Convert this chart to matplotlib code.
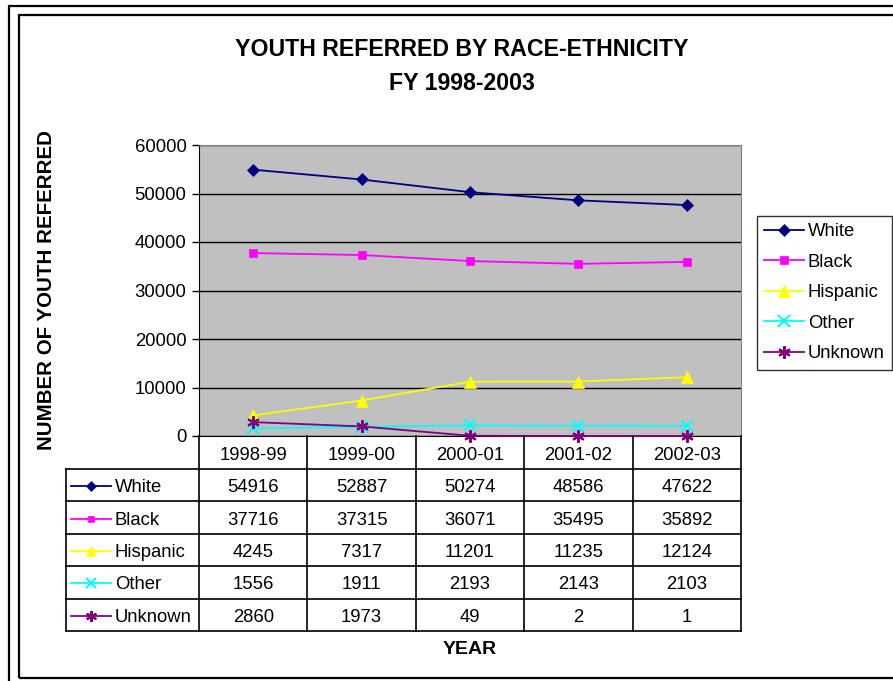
"""Youth referred by race-ethnicity, FY 1998-2003 (line chart with data table)."""
import matplotlib
matplotlib.use("Agg")
import matplotlib.pyplot as plt
from matplotlib.patches import Rectangle

plt.rcParams["font.family"] = ["Liberation Sans", "DejaVu Sans"]

years = ["1998-99", "1999-00", "2000-01", "2001-02", "2002-03"]
series_names = ["White", "Black", "Hispanic", "Other", "Unknown"]
white = [54916, 52887, 50274, 48586, 47622]
black = [37716, 37315, 36071, 35495, 35892]
hispanic = [4245, 7317, 11201, 11235, 12124]
other = [1556, 1911, 2193, 2143, 2103]
unknown = [2860, 1973, 49, 2, 1]
y_ticks = [0, 10000, 20000, 30000, 40000, 50000, 60000]

series_v = [white, black, hispanic, other, unknown]
colors = ["#000080", "#FF00FF", "#FFFF00", "#00FFFF", "#800080"]
markers = ["D", "s", "^", "x", (6, 2, 0)]
msizes = [6, 6, 8, 8, 9]
FS = 13.3

W, H = 893, 681
fig = plt.figure(figsize=(W / 100, H / 100), dpi=100)


def fx(px):
    return px / W


def fy(py):
    return 1 - py / H


# outer frames
fig.patches.append(Rectangle((fx(9), fy(700)), 1.2, fy(6) - fy(700),
                             transform=fig.transFigure, fill=False,
                             edgecolor="black", linewidth=1.6))
fig.patches.append(Rectangle((fx(19), fy(678)), 1.2, fy(15) - fy(678),
                             transform=fig.transFigure, fill=False,
                             edgecolor="black", linewidth=1.6))

# plot area
PL, PR, PT, PB = 199, 741, 145, 436
ax = fig.add_axes([fx(PL), fy(PB), fx(PR - PL), fy(PT) - fy(PB)])
ax.set_facecolor("#C0C0C0")
xs = list(range(len(years)))
for name, vals, col, mk, ms in zip(series_names, series_v, colors, markers, msizes):
    ax.plot(xs, vals, color=col, marker=mk, markersize=ms, linewidth=1.3,
            markeredgewidth=1.5 if mk in ("x", (6, 2, 0)) else 0.5,
            markeredgecolor=col, label=name, clip_on=False, zorder=3)
ax.set_xlim(-0.5, len(years) - 0.5)
ax.set_ylim(0, 60000)
ax.set_yticks(y_ticks)
ax.set_yticklabels([str(v) for v in y_ticks], fontsize=FS)
ax.set_xticks([])
ax.yaxis.grid(True, color="black", linewidth=1)
ax.set_axisbelow(True)
ax.tick_params(axis="y", length=5, width=1, pad=4)
for side in ["top", "right"]:
    ax.spines[side].set_color("#808080")
ax.spines["left"].set_color("black")
ax.spines["bottom"].set_color("black")

# data table under the plot
TL, TB, HDR = 66, 631, 469
TXT_DY = 2.5  # text sits slightly below the cell middle
tax = fig.add_axes([fx(TL), fy(TB), fx(PR - TL), fy(PB) - fy(TB)])
tax.set_xlim(TL, PR)
tax.set_ylim(TB, PB)
tax.axis("off")
col_w = (PR - PL) / len(years)
row_h = (TB - HDR) / len(series_names)
lk = dict(color="black", linewidth=1.2, clip_on=False)
tax.plot([TL, PR], [HDR, HDR], **lk)
for i in range(len(series_names)):
    yb = HDR + (i + 1) * row_h
    tax.plot([TL, PR], [yb, yb], **lk)
tax.plot([TL, TL], [HDR, TB], **lk)
for j in range(len(years) + 1):
    xc = PL + j * col_w
    tax.plot([xc, xc], [PB, TB], **lk)
for j, yr in enumerate(years):
    tax.text(PL + (j + 0.5) * col_w, (PB + HDR) / 2 + TXT_DY, yr, ha="center",
             va="center", fontsize=FS)
for i, (name, vals, col, mk, ms) in enumerate(zip(series_names, series_v, colors,
                                                  markers, msizes)):
    yc = HDR + (i + 0.5) * row_h
    tax.plot([TL + 5, TL + 45], [yc + 1, yc + 1], color=col, linewidth=1.3)
    tax.plot([TL + 25], [yc + 1], color=col, marker=mk, markersize=ms - 1,
             markeredgewidth=1.5 if mk in ("x", (6, 2, 0)) else 0.5,
             markeredgecolor=col)
    tax.text(TL + 49, yc + TXT_DY, name, ha="left", va="center", fontsize=FS)
    for j, v in enumerate(vals):
        tax.text(PL + (j + 0.5) * col_w, yc + TXT_DY, str(v), ha="center",
                 va="center", fontsize=FS)

# legend
leg = fig.legend(loc="upper left", bbox_to_anchor=(fx(757), fy(216)),
                 fontsize=FS, frameon=True, fancybox=False, handlelength=2.15,
                 handletextpad=0.2, labelspacing=0.73, borderpad=0.4,
                 borderaxespad=0)
leg.get_frame().set_edgecolor("black")
leg.get_frame().set_linewidth(1)

# titles and labels
fig.text(fx(462), fy(50), "YOUTH REFERRED BY RACE-ETHNICITY", ha="center",
         va="center", fontsize=16.7, fontweight="bold")
fig.text(fx(462), fy(83), "FY 1998-2003", ha="center", va="center",
         fontsize=16.7, fontweight="bold")
fig.text(fx(47), fy(290), "NUMBER OF YOUTH REFERRED", ha="center", va="center",
         rotation=90, fontsize=14.8, fontweight="bold")
fig.text(fx(470), fy(650), "YEAR", ha="center", va="center", fontsize=14,
         fontweight="bold")

fig.savefig("out.png", dpi=100)
